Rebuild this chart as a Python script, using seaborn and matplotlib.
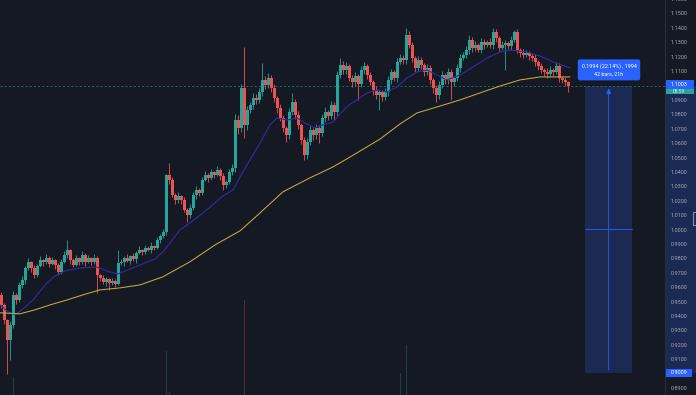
import matplotlib
matplotlib.use("Agg")
import matplotlib.pyplot as plt
import numpy as np
import pandas as pd
import seaborn as sns
from matplotlib.patches import Rectangle

#------Data------

first_open = 0.9550

closes = [
    0.9480, 0.9375, 0.9236, 0.9340, 0.9548, 0.9514, 0.9618, 0.9653, 0.9736, 0.9778,
    0.9736, 0.9687, 0.9750, 0.9791, 0.9778, 0.9805, 0.9764, 0.9791, 0.9757, 0.9708,
    0.9778, 0.9826, 0.9861, 0.9791, 0.9757, 0.9805, 0.9778, 0.9826, 0.9778, 0.9805,
    0.9778, 0.9805, 0.9687, 0.9667, 0.9639, 0.9660, 0.9632, 0.9646, 0.9625, 0.9771,
    0.9778, 0.9805, 0.9785, 0.9819, 0.9799, 0.9840, 0.9861, 0.9847, 0.9875, 0.9861,
    0.9889, 0.9875, 0.9931, 0.9958, 0.9986, 1.0382, 1.0347, 1.0243, 1.0208, 1.0236,
    1.0208, 1.0139, 1.0104, 1.0153, 1.0243, 1.0278, 1.0257, 1.0347, 1.0382, 1.0361,
    1.0403, 1.0382, 1.0417, 1.0375, 1.0313, 1.0334, 1.0403, 1.0431, 1.0764, 1.0708,
    1.0986, 1.0729, 1.0833, 1.0868, 1.0917, 1.0903, 1.0958, 1.1042, 1.1007, 1.1056,
    1.0986, 1.0917, 1.0847, 1.0778, 1.0708, 1.0660, 1.0820, 1.0889, 1.0799, 1.0729,
    1.0625, 1.0521, 1.0612, 1.0695, 1.0660, 1.0708, 1.0674, 1.0778, 1.0820, 1.0792,
    1.0868, 1.0820, 1.1076, 1.1146, 1.1111, 1.1139, 1.1056, 1.1028, 1.1070, 1.1014,
    1.1111, 1.1139, 1.1076, 1.1028, 1.0972, 1.0938, 1.0958, 1.0924, 1.0958, 1.1042,
    1.1097, 1.1056, 1.1167, 1.1194, 1.1181, 1.1354, 1.1285, 1.1194, 1.1125, 1.1181,
    1.1146, 1.1097, 1.1125, 1.1042, 1.0986, 1.0938, 1.1007, 1.1076, 1.1042, 1.1097,
    1.1028, 1.1056, 1.1125, 1.1194, 1.1215, 1.1250, 1.1319, 1.1264, 1.1285, 1.1250,
    1.1306, 1.1285, 1.1306, 1.1285, 1.1375, 1.1333, 1.1264, 1.1285, 1.1299, 1.1278,
    1.1319, 1.1375, 1.1250, 1.1229, 1.1215, 1.1229, 1.1208, 1.1194, 1.1167, 1.1139,
    1.1111, 1.1097, 1.1083, 1.1111, 1.1097, 1.1139, 1.1056, 1.1042, 1.1028, 1.1003,
]

upper_wick = [
    0.0020, 0.0015, 0.0010, 0.0025, 0.0030, 0.0015, 0.0020, 0.0025, 0.0015, 0.0030,
    0.0010, 0.0020, 0.0015, 0.0025, 0.0010, 0.0030, 0.0015, 0.0020, 0.0010, 0.0015,
    0.0020, 0.0025, 0.0070, 0.0010, 0.0015, 0.0020, 0.0010, 0.0030, 0.0015, 0.0020,
    0.0010, 0.0025, 0.0015, 0.0010, 0.0020, 0.0015, 0.0010, 0.0020, 0.0015, 0.0090,
    0.0020, 0.0015, 0.0025, 0.0010, 0.0020, 0.0015, 0.0025, 0.0010, 0.0020, 0.0015,
    0.0025, 0.0010, 0.0020, 0.0015, 0.0020, 0.0010, 0.0084, 0.0020, 0.0015, 0.0025,
    0.0010, 0.0020, 0.0015, 0.0025, 0.0020, 0.0030, 0.0015, 0.0020, 0.0025, 0.0015,
    0.0020, 0.0010, 0.0025, 0.0015, 0.0020, 0.0015, 0.0020, 0.0030, 0.0040, 0.0035,
    0.0028, 0.0285, 0.0030, 0.0020, 0.0035, 0.0025, 0.0030, 0.0118, 0.0025, 0.0035,
    0.0020, 0.0030, 0.0015, 0.0025, 0.0020, 0.0015, 0.0030, 0.0063, 0.0020, 0.0025,
    0.0015, 0.0020, 0.0030, 0.0025, 0.0015, 0.0030, 0.0020, 0.0025, 0.0035, 0.0015,
    0.0025, 0.0020, 0.0030, 0.0048, 0.0025, 0.0030, 0.0015, 0.0020, 0.0030, 0.0015,
    0.0030, 0.0025, 0.0015, 0.0020, 0.0015, 0.0025, 0.0020, 0.0015, 0.0030, 0.0025,
    0.0020, 0.0015, 0.0025, 0.0030, 0.0020, 0.0049, 0.0030, 0.0020, 0.0015, 0.0025,
    0.0020, 0.0015, 0.0030, 0.0020, 0.0015, 0.0020, 0.0025, 0.0030, 0.0015, 0.0025,
    0.0020, 0.0015, 0.0030, 0.0025, 0.0020, 0.0030, 0.0035, 0.0020, 0.0025, 0.0015,
    0.0025, 0.0020, 0.0015, 0.0030, 0.0028, 0.0020, 0.0015, 0.0025, 0.0020, 0.0015,
    0.0030, 0.0014, 0.0020, 0.0015, 0.0025, 0.0020, 0.0015, 0.0020, 0.0025, 0.0015,
    0.0020, 0.0015, 0.0025, 0.0030, 0.0015, 0.0025, 0.0020, 0.0015, 0.0020, 0.0010,
]

lower_wick = [
    0.0020, 0.0030, 0.0236, 0.0139, 0.0020, 0.0025, 0.0015, 0.0020, 0.0030, 0.0015,
    0.0025, 0.0020, 0.0015, 0.0010, 0.0025, 0.0015, 0.0020, 0.0010, 0.0025, 0.0020,
    0.0015, 0.0010, 0.0020, 0.0025, 0.0015, 0.0010, 0.0020, 0.0015, 0.0025, 0.0010,
    0.0020, 0.0015, 0.0124, 0.0020, 0.0015, 0.0025, 0.0049, 0.0015, 0.0020, 0.0010,
    0.0015, 0.0025, 0.0010, 0.0020, 0.0015, 0.0025, 0.0010, 0.0020, 0.0015, 0.0010,
    0.0020, 0.0015, 0.0010, 0.0020, 0.0015, 0.0020, 0.0025, 0.0015, 0.0030, 0.0020,
    0.0025, 0.0015, 0.0048, 0.0020, 0.0015, 0.0025, 0.0020, 0.0015, 0.0010, 0.0025,
    0.0015, 0.0020, 0.0010, 0.0025, 0.0035, 0.0020, 0.0015, 0.0020, 0.0030, 0.0040,
    0.0025, 0.0090, 0.0035, 0.0020, 0.0030, 0.0025, 0.0020, 0.0030, 0.0025, 0.0020,
    0.0030, 0.0025, 0.0035, 0.0020, 0.0030, 0.0049, 0.0025, 0.0020, 0.0030, 0.0025,
    0.0030, 0.0034, 0.0025, 0.0020, 0.0035, 0.0025, 0.0069, 0.0020, 0.0025, 0.0030,
    0.0020, 0.0056, 0.0025, 0.0020, 0.0030, 0.0025, 0.0020, 0.0035, 0.0025, 0.0111,
    0.0020, 0.0025, 0.0030, 0.0020, 0.0035, 0.0025, 0.0105, 0.0030, 0.0020, 0.0025,
    0.0030, 0.0020, 0.0025, 0.0015, 0.0030, 0.0025, 0.0020, 0.0030, 0.0025, 0.0020,
    0.0025, 0.0030, 0.0020, 0.0025, 0.0035, 0.0049, 0.0025, 0.0020, 0.0030, 0.0025,
    0.0125, 0.0030, 0.0020, 0.0025, 0.0015, 0.0020, 0.0025, 0.0030, 0.0020, 0.0015,
    0.0020, 0.0025, 0.0015, 0.0020, 0.0025, 0.0030, 0.0020, 0.0015, 0.0174, 0.0020,
    0.0025, 0.0015, 0.0020, 0.0025, 0.0020, 0.0015, 0.0025, 0.0020, 0.0030, 0.0025,
    0.0020, 0.0025, 0.0030, 0.0020, 0.0025, 0.0015, 0.0030, 0.0020, 0.0025, 0.0045,
]

blue_ma_bar = [-0.5, 2.2, 4.5, 6.8, 10.5, 14.5, 17.8, 21.2, 26.2, 31.8,
               36.2, 38.8, 41.2, 46.2, 51.2, 53.8, 56.2, 59.5, 62.8, 67.2,
               71.2, 73.8, 77.2, 79.5, 82.8, 86.2, 89.5, 91.8, 95.2, 98.5,
               101.8, 104.5, 107.2, 110.5, 113.8, 116.2, 118.5, 121.8, 125.2, 128.5,
               131.8, 135.2, 138.5, 141.8, 145.2, 148.5, 152.8, 157.2, 161.8, 166.2,
               169.5, 175.2, 179.5, 183.8, 189.5]
blue_ma = [0.9480, 0.9432, 0.9411, 0.9446, 0.9514, 0.9618, 0.9681, 0.9716, 0.9736, 0.9743,
           0.9708, 0.9695, 0.9716, 0.9757, 0.9800, 0.9848, 0.9911, 1.0001, 1.0049, 1.0119,
           1.0188, 1.0237, 1.0278, 1.0369, 1.0487, 1.0605, 1.0730, 1.0778, 1.0764, 1.0778,
           1.0736, 1.0709, 1.0730, 1.0750, 1.0827, 1.0875, 1.0903, 1.0952, 1.0972, 1.0958,
           1.0993, 1.1056, 1.1097, 1.1111, 1.1076, 1.1042, 1.1076, 1.1132, 1.1194, 1.1236,
           1.1250, 1.1236, 1.1208, 1.1167, 1.1125]

yellow_ma_bar = [-0.5, 6.2, 11.2, 16.2, 21.8, 27.2, 32.8, 39.5, 46.2, 53.8,
                 62.8, 71.2, 79.5, 86.2, 93.8, 102.8, 110.5, 116.2, 126.2, 132.8,
                 138.5, 146.2, 152.8, 159.5, 166.2, 172.8, 179.5, 186.2, 189.5]
yellow_ma = [0.9425, 0.9418, 0.9446, 0.9480, 0.9514, 0.9550, 0.9584, 0.9598, 0.9619, 0.9675,
             0.9779, 0.9897, 0.9994, 1.0119, 1.0265, 1.0362, 1.0438, 1.0507, 1.0632, 1.0736,
             1.0813, 1.0861, 1.0903, 1.0952, 1.1000, 1.1042, 1.1063, 1.1063, 1.1063]

# only the volume spikes poke out above the bottom edge
vol_bar = [4, 55, 56, 81, 133, 135]
vol_k = [1.8, 4.4, 0.3, 9.5, 2.2, 5.0]

price_ticks = [0.89, 0.91, 0.92, 0.93, 0.94, 0.95, 0.96, 0.97, 0.98, 0.99,
               1.00, 1.01, 1.02, 1.03, 1.04, 1.05, 1.06, 1.07, 1.08, 1.09,
               1.11, 1.12, 1.13, 1.14, 1.15, 1.16]

last_price = 1.1003
range_low = 0.9009
range_text = "0.1994 (22.14%) , 1994"
bars_text = "42 bars, 21h"
countdown = "08:59"

#------Style------

BG = "#151924"
UP = "#26a69a"
DOWN = "#ef5350"
BLUE_MA = "#2b2da8"
YELLOW_MA = "#bfae46"
TV_BLUE = "#2962ff"
RANGE_FILL = "#1c2952"
AXIS_TXT = "#a3a6af"

Y_LO, Y_HI = 0.88542, 1.15972

sns.set_theme(style="dark", rc={"axes.facecolor": BG, "figure.facecolor": BG})
plt.rcParams["font.family"] = ["Roboto", "DejaVu Sans"]

#------Figure------

fig = plt.figure(figsize=(6.96, 3.95), dpi=100)
ax = fig.add_axes([0, 0, 665 / 696, 1])
pax = fig.add_axes([665 / 696, 0, 31 / 696, 1])

n = len(closes)
bars = np.arange(n)
opens = np.array([first_open] + closes[:-1])
closes_a = np.array(closes)
highs = np.maximum(opens, closes_a) + np.array(upper_wick)
lows = np.minimum(opens, closes_a) - np.array(lower_wick)
colors = np.where(closes_a >= opens, UP, DOWN)
body_lo = np.minimum(opens, closes_a)
body_h = np.maximum(np.abs(closes_a - opens), 0.0007)

# volume behind everything
vax = ax.twinx()
vol_colors = [UP if closes_a[i] >= opens[i] else DOWN for i in vol_bar]
vax.bar(vol_bar, vol_k, width=0.5, color=vol_colors, alpha=0.3, linewidth=0)
vax.set_ylim(0, 39.5)
vax.axis("off")

# measured range box
ax.add_patch(Rectangle((194.5, range_low), 15.7, last_price - range_low,
                       facecolor=RANGE_FILL, edgecolor="none", zorder=1))
ax.plot([194.5, 210.2], [(last_price + range_low) / 2] * 2, color=TV_BLUE, lw=0.6, zorder=2)
ax.annotate("", xy=(202.4, last_price), xytext=(202.4, range_low),
            arrowprops=dict(arrowstyle="-|>,head_length=0.25,head_width=0.12",
                            color=TV_BLUE, lw=0.6), zorder=2)

# last price line
ax.axhline(last_price, color="#22736b", lw=0.6, ls=(0, (2.5, 2.5)), zorder=1)

# candles
ax.vlines(bars, lows, highs, colors=colors, lw=0.6, zorder=3)
ax.bar(bars, body_h, bottom=body_lo, width=0.68, color=colors, linewidth=0, zorder=4)

# moving averages
ma_blue = pd.DataFrame({"bar": blue_ma_bar, "price": blue_ma})
ma_yellow = pd.DataFrame({"bar": yellow_ma_bar, "price": yellow_ma})
sns.lineplot(data=ma_blue, x="bar", y="price", ax=ax, color=BLUE_MA, lw=0.8, zorder=5)
sns.lineplot(data=ma_yellow, x="bar", y="price", ax=ax, color=YELLOW_MA, lw=0.75, zorder=5)

# range label
ax.text(202.5, 1.1111, range_text + "\n" + bars_text, ha="center", va="center",
        fontsize=3.9, color="white", linespacing=1.6, zorder=6,
        bbox=dict(boxstyle="round,pad=0.7,rounding_size=0.4", fc=TV_BLUE, ec="none"))

ax.set_xlim(-0.5, 221.17)
ax.set_ylim(Y_LO, Y_HI)
ax.set_xticks([])
ax.set_yticks([])
ax.set_xlabel("")
ax.set_ylabel("")
for s in ax.spines.values():
    s.set_visible(False)

#------Price scale------

pax.set_facecolor(BG)
pax.set_xlim(0, 1)
pax.set_ylim(Y_LO, Y_HI)
pax.axhspan(range_low, last_price, color=RANGE_FILL, lw=0)
pax.axvline(0, color="#2a2e39", lw=0.8)
for t in price_ticks:
    pax.text(0.44, t, f"{t:.4f}", ha="center", va="center", fontsize=4, color=AXIS_TXT)

pax.add_patch(Rectangle((0.03, last_price - 0.0023), 0.9, 0.0059, fc=TV_BLUE, ec="none"))
pax.text(0.44, last_price + 0.0006, f"{last_price:.4f}", ha="center", va="center",
         fontsize=4, color="white")
pax.add_patch(Rectangle((0.03, last_price - 0.0062), 0.9, 0.0039, fc=UP, ec="none"))
pax.text(0.44, last_price - 0.0043, countdown, ha="center", va="center",
         fontsize=3.5, color="#d8f0ec")

pax.add_patch(Rectangle((0.03, range_low - 0.0028), 0.84, 0.0052, fc=TV_BLUE, ec="none"))
pax.text(0.44, range_low - 0.0002, f"{range_low:.4f}", ha="center", va="center",
         fontsize=4, color="white")

pax.add_patch(Rectangle((0.9, 1.0035), 0.3, 0.009, fill=False, ec="#7f8fc4", lw=0.8))
pax.set_xticks([])
pax.set_yticks([])
for s in pax.spines.values():
    s.set_visible(False)

fig.savefig("out.png", dpi=100, facecolor=BG)
